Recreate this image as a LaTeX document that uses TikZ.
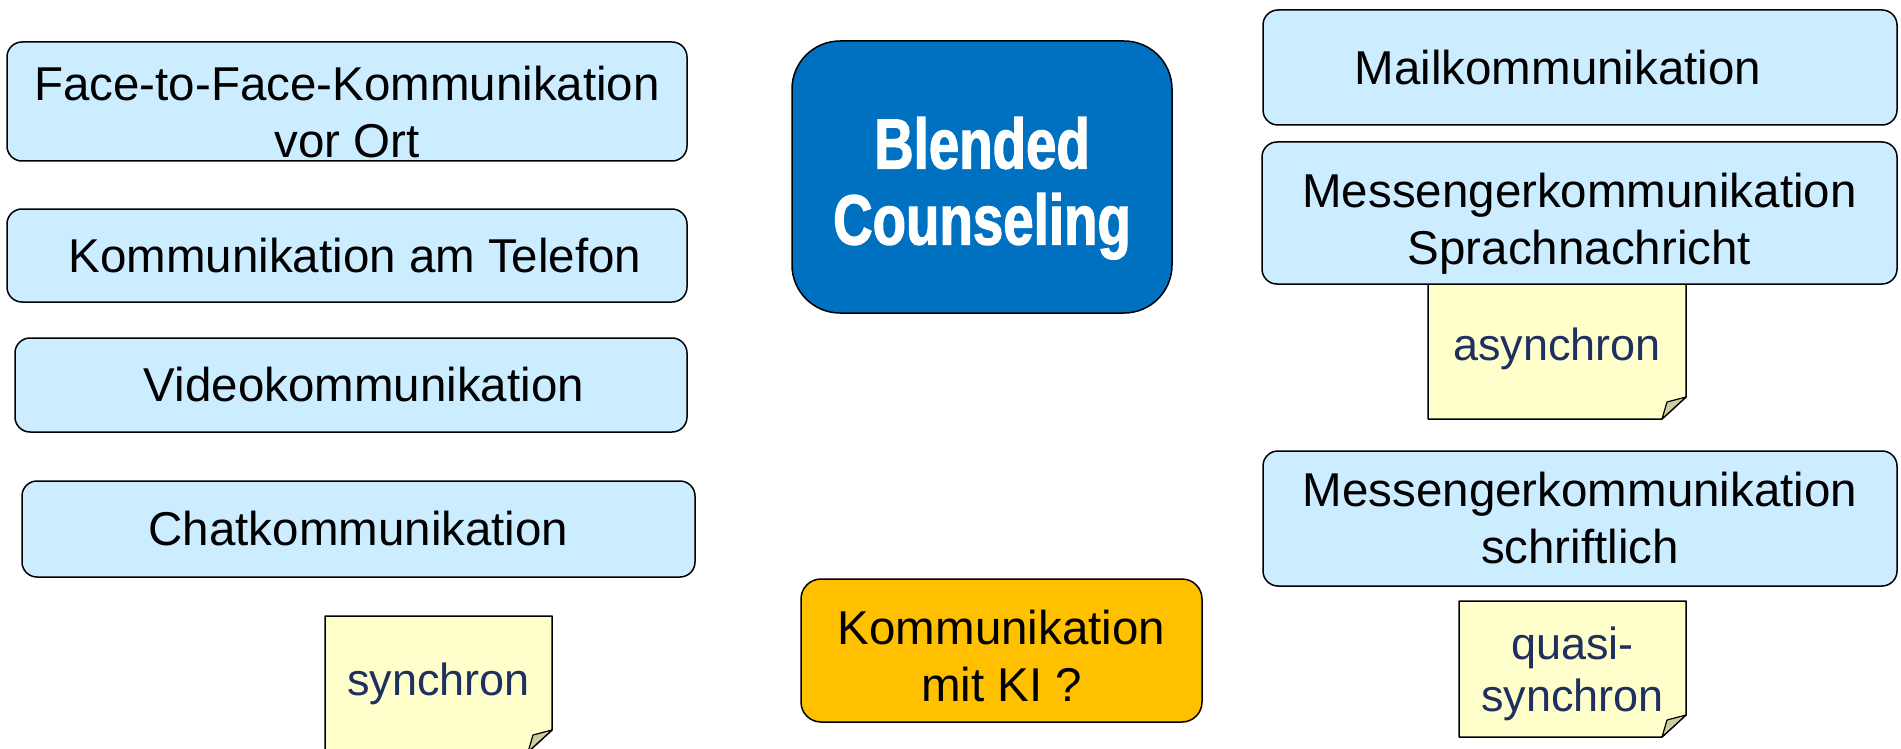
\documentclass[tikz,border=0pt]{standalone}
\usepackage{fontspec}
\setmainfont{Liberation Sans}
\newfontfamily\impactfont{Liberation Sans}[FakeStretch=0.77,FakeBold=1.6]
\usetikzlibrary{backgrounds}
\definecolor{boxblue}{RGB}{204,236,255}
\definecolor{deepblue}{RGB}{0,112,192}
\definecolor{kiorange}{RGB}{255,192,0}
\definecolor{noteyellow}{RGB}{255,255,204}
\definecolor{notefold}{RGB}{205,205,160}
\definecolor{notetext}{RGB}{31,47,96}
\newcommand{\stickynote}[1]{%
  \begin{pgfonlayer}{background}
  \filldraw[fill=noteyellow, draw=black, line width=1.5pt, line join=round]
    (#1.north west) -- (#1.north east) -- ([yshift=22pt]#1.south east)
    -- ([xshift=-24pt]#1.south east) -- (#1.south west) -- cycle;
  \filldraw[fill=notefold, draw=black, line width=1.2pt, line join=round]
    ([yshift=22pt]#1.south east) -- ([xshift=-19pt,yshift=17pt]#1.south east)
    -- ([xshift=-24pt]#1.south east) -- cycle;
  \end{pgfonlayer}}
% strut that pushes a node's text down
\newcommand{\txtstrut}[1]{\rule{0pt}{#1}}
\begin{document}
\begin{tikzpicture}[x=1pt,y=-1pt,
  every node/.style={inner sep=0pt, outer sep=0pt},
  mbox/.style={draw=black, line width=1.5pt, fill=boxblue, rounded corners=15pt,
    align=center, font=\fontsize{47.5}{57}\selectfont},
  blendbox/.style={draw=black, line width=1.5pt, fill=deepblue, rounded corners=48pt,
    align=center, text=white, font=\impactfont\bfseries\fontsize{71}{76}\selectfont},
  kibox/.style={draw=black, line width=1.5pt, fill=kiorange, rounded corners=20pt,
    align=center, font=\fontsize{47.5}{57}\selectfont},
  notebox/.style={align=center, text=notetext, font=\fontsize{45}{52}\selectfont}
]
\clip (0,0) rectangle (1901,749);
\useasboundingbox (0,0) rectangle (1901,749);

% left column
\node[mbox, minimum width=680pt, minimum height=119pt] (ff) at (347,101.5)
  {\txtstrut{55pt}Face-to-Face-Kommunikation\\vor Ort};
\node[mbox, minimum width=680pt, minimum height=93pt] (tel) at (347,255.5)
  {\hspace*{16pt}Kommunikation am Telefon};
\node[mbox, minimum width=672pt, minimum height=94pt] (vid) at (351,385)
  {\hspace*{26pt}Videokommunikation};
\node[mbox, minimum width=673pt, minimum height=96pt] (chat) at (358.5,529)
  {Chatkommunikation};
\node[notebox, minimum width=227pt, minimum height=136pt] (syn) at (438.5,684)
  {synchron};
\stickynote{syn}

% centre
\node[blendbox, minimum width=380pt, minimum height=272pt] (bc) at (982,177)
  {\txtstrut{74pt}Blended\\Counseling};
\node[kibox, minimum width=401pt, minimum height=143pt] (ki) at (1001.5,650.5)
  {\txtstrut{45pt}Kommunikation\\mit KI ?};

% right column
\node[mbox, minimum width=634pt, minimum height=115pt] (mail) at (1580,67.5)
  {Mailkommunikation\hspace*{44pt}};
\node[mbox, minimum width=635pt, minimum height=142pt] (msp) at (1579.5,213)
  {\txtstrut{55pt}Messengerkommunikation\\Sprachnachricht};
\node[notebox, minimum width=258pt, minimum height=140pt] (asyn) at (1557,349)
  {asynchron};
\stickynote{asyn}
\node[mbox, minimum width=634pt, minimum height=135pt] (msch) at (1580,518.5)
  {Messengerkommunikation\\schriftlich};
\node[notebox, minimum width=227pt, minimum height=136pt] (quasi) at (1572.5,669)
  {\txtstrut{42pt}quasi-\\synchron};
\stickynote{quasi}
\end{tikzpicture}
\end{document}
